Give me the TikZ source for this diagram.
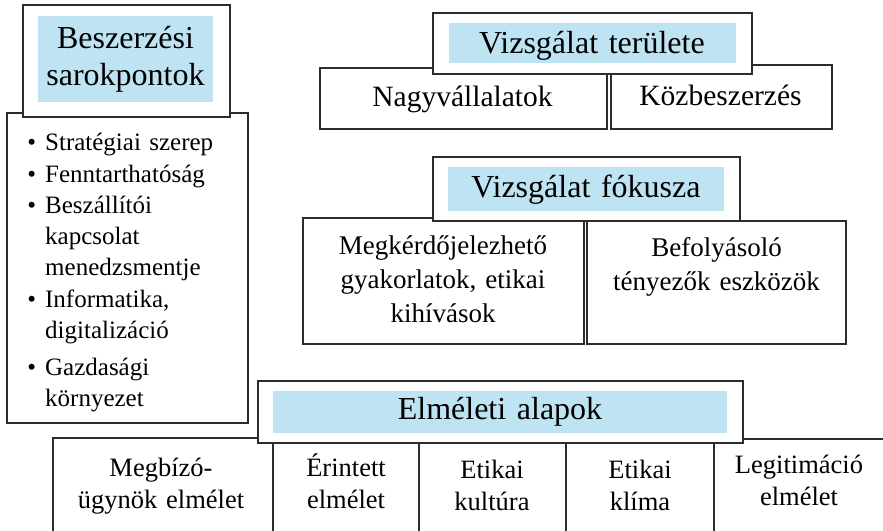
\documentclass[tikz,border=0pt]{standalone}
\usepackage{fontspec}
\setmainfont{Liberation Serif}
\definecolor{hdblue}{RGB}{190,228,243}
\definecolor{edge}{RGB}{45,45,45}
\newcommand\fbul{\fontsize{25}{31}\selectfont}
\newcommand\fhd{\fontsize{32}{37}\selectfont}
\newcommand\ftop{\fontsize{29.5}{34}\selectfont}
\newcommand\fmid{\fontsize{27}{34}\selectfont}
\newcommand\fbot{\fontsize{26.5}{32}\selectfont}
\begin{document}
\begin{tikzpicture}[x=1pt,y=-1pt,
  frame/.style={draw=edge, line width=1.3pt, fill=white, inner sep=0pt},
  band/.style={fill=hdblue, draw=none, inner sep=0pt},
  txt/.style={inner sep=0pt, anchor=base, align=center, text width=#1},
  txt/.default=300,
  item/.style={inner sep=0pt, anchor=base west, align=left, text width=195, font=\fbul}]
\useasboundingbox (0,0) rectangle (883,530);
\clip (0,0) rectangle (883,530);

% ---- left group
\node[frame, minimum width=241, minimum height=310] (listbox) at (127.5,268) {};
\node[frame, minimum width=207, minimum height=112] (lhead) at (126.5,61) {};
\node[band, minimum width=175, minimum height=86] (lband) at (125.5,59) {};
\node[txt=175, font=\fhd] (ltitle) at (125.5,48) {Beszerzési\\[-0pt]sarokpontok};
\node[item] (b1) at (45,150) {\leavevmode\llap{•\hspace{9pt}}Stratégiai szerep};
\node[item] (b2) at (45,182) {\leavevmode\llap{•\hspace{9pt}}Fenntarthatóság};
\node[item] (b3) at (45,213) {\leavevmode\llap{•\hspace{9pt}}Beszállítói\\kapcsolat\\menedzsmentje};
\node[item] (b4) at (45,307) {\leavevmode\llap{•\hspace{9pt}}Informatika,\\digitalizáció};
\node[item] (b5) at (45,375) {\leavevmode\llap{•\hspace{9pt}}Gazdasági\\környezet};

% ---- Vizsgálat területe
\node[frame, minimum width=287, minimum height=61] (nagy) at (463.5,98.5) {};
\node[frame, minimum width=221, minimum height=64] (kozb) at (721.5,97) {};
\node[frame, minimum width=319, minimum height=61] (vthead) at (592.5,43.5) {};
\node[band, minimum width=287, minimum height=40] (vtband) at (592.5,43) {};
\node[txt, font=\fhd] (vttitle) at (592,53) {Vizsgálat területe};
\node[txt, font=\ftop] (nagyt) at (462.5,106) {Nagyvállalatok};
\node[txt, font=\ftop] (kozbt) at (720.5,105) {Közbeszerzés};

% ---- Vizsgálat fókusza
\node[frame, minimum width=281, minimum height=126] (megk) at (443.5,281) {};
\node[frame, minimum width=259, minimum height=123] (befo) at (716.5,282.5) {};
\node[frame, minimum width=307, minimum height=64] (vfhead) at (586.5,189) {};
\node[band, minimum width=276, minimum height=44] (vfband) at (586,189) {};
\node[txt, font=\fhd] (vftitle) at (586,197) {Vizsgálat fókusza};
\node[txt=270, font=\fmid] (megkt) at (443,254) {Megkérdőjelezhető\\gyakorlatok, etikai\\kihívások};
\node[txt=250, font=\fmid] (befot) at (716.5,256) {Befolyásoló\\tényezők eszközök};

% ---- Elméleti alapok
\node[frame, minimum width=220, minimum height=107] (megb) at (163,491.5) {};
\node[frame, minimum width=146, minimum height=106] (erin) at (346,492) {};
\node[frame, minimum width=147, minimum height=106] (kult) at (492.5,492) {};
\node[frame, minimum width=148, minimum height=106] (klim) at (640,492) {};
\node[frame, minimum width=176, minimum height=106] (legi) at (802,492) {};
\node[frame, minimum width=485, minimum height=62] (ehead) at (500.5,412) {};
\node[band, minimum width=454, minimum height=42] (eband) at (500,412) {};
\node[txt, font=\fhd] (etitle) at (500,419) {Elméleti alapok};
\node[txt=210, font=\fbot] (megbt) at (161,476) {Megbízó-\\ügynök elmélet};
\node[txt=140, font=\fbot] (erint) at (346,476) {Érintett\\elmélet};
\node[txt=140, font=\fbot] (kultt) at (492,478) {Etikai\\kultúra};
\node[txt=140, font=\fbot] (klimt) at (640,478) {Etikai\\klíma};
\node[txt=165, font=\fbot] (legit) at (799,473) {Legitimáció\\elmélet};
\end{tikzpicture}
\end{document}
